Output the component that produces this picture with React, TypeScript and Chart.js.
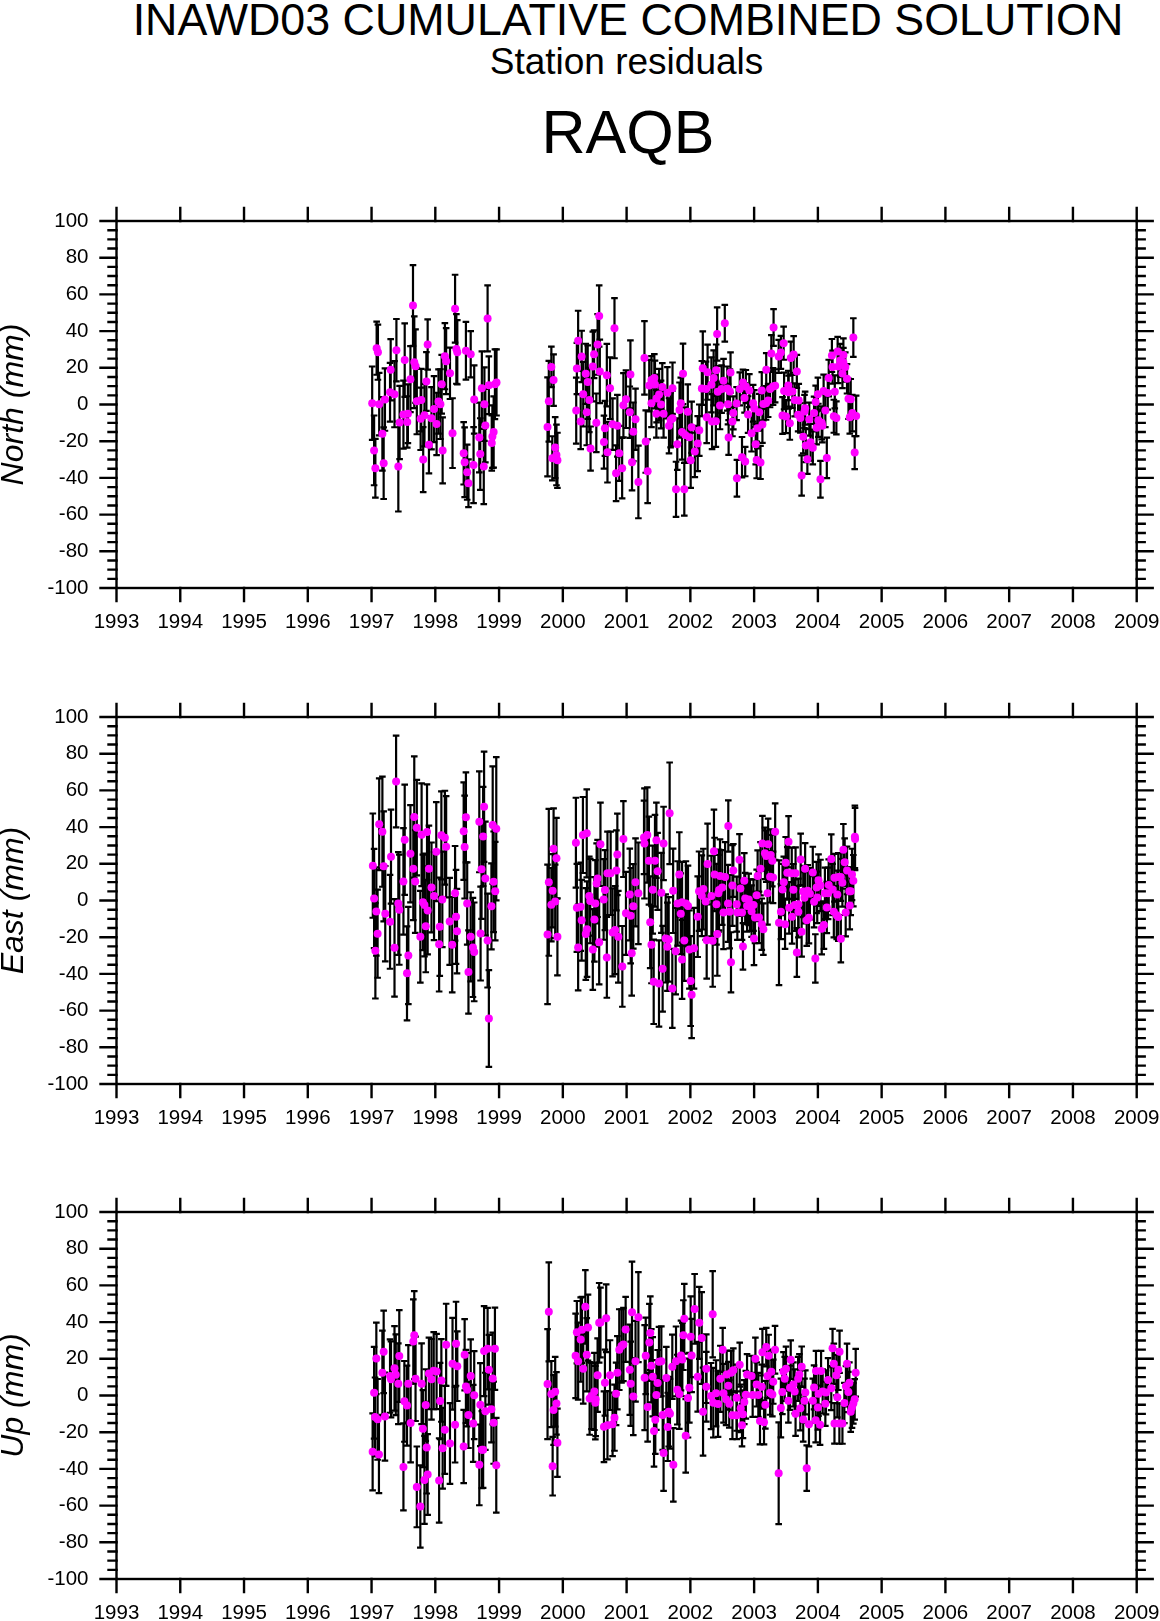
import { useEffect, useRef } from 'react'
import { Chart, registerables } from 'chart.js'

Chart.register(...registerables)

const FONT = '"Liberation Sans", Arial, sans-serif'

const yearTicks = [1993, 1994, 1995, 1996, 1997, 1998, 1999, 2000, 2001, 2002, 2003, 2004, 2005, 2006, 2007, 2008, 2009]
const mmMinorTicks = [-100, -95, -90, -85, -80, -75, -70, -65, -60, -55, -50, -45, -40, -35, -30, -25, -20, -15, -10, -5, 0, 5, 10, 15, 20, 25, 30, 35, 40, 45, 50, 55, 60, 65, 70, 75, 80, 85, 90, 95, 100]
const mmMajorTicks = [-100, -80, -60, -40, -20, 0, 20, 40, 60, 80, 100]

const northEpochs = [
  1997.01, 1997.04, 1997.06, 1997.08, 1997.10, 1997.12, 1997.17, 1997.19, 1997.21, 1997.29,
  1997.30, 1997.36, 1997.39, 1997.42, 1997.44, 1997.50, 1997.52, 1997.56, 1997.57, 1997.61,
  1997.65, 1997.67, 1997.69, 1997.71, 1997.78, 1997.77, 1997.81, 1997.83, 1997.86, 1997.88,
  1997.90, 1997.94, 1997.98, 1998.02, 1998.05, 1998.08, 1998.10, 1998.115, 1998.15, 1998.17,
  1998.23, 1998.27, 1998.31, 1998.33, 1998.345, 1998.445, 1998.46, 1998.48, 1998.50, 1998.52,
  1998.555, 1998.60, 1998.61, 1998.69, 1998.705, 1998.73, 1998.76, 1998.77, 1998.785, 1998.82,
  1998.84, 1998.885, 1998.895, 1998.915, 1998.935, 1998.96,
  1999.76, 1999.78, 1999.82, 1999.835, 1999.855, 1999.88, 1999.90, 1999.915,
  2000.21, 2000.22, 2000.24, 2000.28, 2000.295, 2000.32, 2000.36, 2000.375, 2000.39, 2000.415,
  2000.435, 2000.47, 2000.49, 2000.525, 2000.545, 2000.57, 2000.58, 2000.645, 2000.66, 2000.69,
  2000.70, 2000.74, 2000.78, 2000.81, 2000.835, 2000.855, 2000.885, 2000.93, 2000.95, 2000.99,
  2001.05, 2001.06, 2001.085, 2001.105, 2001.14, 2001.185, 2001.28, 2001.30, 2001.33, 2001.355,
  2001.39, 2001.39, 2001.435, 2001.445, 2001.467, 2001.47, 2001.51, 2001.54, 2001.56, 2001.58,
  2001.64, 2001.665, 2001.69, 2001.72, 2001.72, 2001.775, 2001.795, 2001.83, 2001.85, 2001.87,
  2001.885, 2001.905, 2001.92, 2001.96, 2001.985, 2002.005, 2002.02, 2002.07, 2002.115, 2002.14,
  2002.18, 2002.195, 2002.245, 2002.256, 2002.27, 2002.33, 2002.34, 2002.365, 2002.40, 2002.405,
  2002.42, 2002.43, 2002.465, 2002.49, 2002.52, 2002.54, 2002.58, 2002.59, 2002.60, 2002.62,
  2002.63, 2002.66, 2002.674, 2002.725, 2002.73, 2002.775, 2002.81, 2002.825, 2002.85, 2002.86,
  2002.87, 2002.905, 2002.925, 2002.96, 2002.985, 2003.003, 2003.025, 2003.04, 2003.05, 2003.08,
  2003.10, 2003.12, 2003.13, 2003.145, 2003.187, 2003.19, 2003.22, 2003.25, 2003.27, 2003.297,
  2003.305, 2003.33, 2003.385, 2003.42, 2003.445, 2003.463, 2003.47, 2003.50, 2003.536, 2003.54,
  2003.56, 2003.575, 2003.60, 2003.62, 2003.636, 2003.67, 2003.69, 2003.70, 2003.725, 2003.745,
  2003.77, 2003.79, 2003.80, 2003.81, 2003.835, 2003.865, 2003.885, 2003.92, 2003.94, 2003.965,
  2003.98, 2004.0, 2004.007, 2004.04, 2004.06, 2004.07, 2004.09, 2004.117, 2004.14, 2004.155,
  2004.17, 2004.22, 2004.23, 2004.25, 2004.265, 2004.29, 2004.31, 2004.32, 2004.35, 2004.385,
  2004.40, 2004.40, 2004.43, 2004.457, 2004.48, 2004.50, 2004.515, 2004.54, 2004.556, 2004.577,
  2004.60,
]
const northResiduals = [
  0.7, -25, -34.7, 30.7, 28.5, 0.2, -16, -32, 2.7, 6.7,
  18.9, 5.6, 29.6, -33.8, -9.8, -5.5, 24.2, -9.5, -5, 13.8,
  54, 23, 20.9, 1.8, 2.4, -7.8, -30, -5.8, 12.5, 32.7,
  -22, -7.5, -2.5, -10.6, 1.6, 0.2, 11, -25, 26.3, 23.6,
  17, -15.6, 52.2, 30.3, 28.5, -26.6, -31.5, 29.3, -36.9, -42.9,
  27.4, -33, 2.7, -18, -27, 8.9, -33.8, 0.2, -11.5, 46.9,
  10.5, -21, -17.5, -15, 11, 12,
  -12.2, 1.8, 20.5, -29.3, 13.3, -23.5, -27.5, -30.4,
  -3.3, 19.6, 34.7, -9.3, 26.2, 5.6, 16.7, -4.2, 12.2, 2.5,
  -24, 20.7, 27.4, -10, 32.7, 48.2, 18, -20.5, -13, 16,
  -26, 8.9, -10.7, 41.6, -37.5, -11.6, -26.6, -34.7, -0.4, 2.9,
  -4.2, 16.4, -31.5, -14.9, -8, -42.2, 25.4, -20.2, -36.4, 10.3,
  13.4, 0.7, 14.4, 10.9, -5.1, 3.3, 5.4, 0, 9.6, -5.1,
  6.4, -11.6, -8.4, 8.9, -7.5, -46.2, -21.6, -3, 0.7, -15,
  16.7, -46.2, -16.6, -4, -17.8, -30.4, -12.4, -25.6, -21.3, -14,
  8.7, 19.8, 8.4, -7, 17.6, 10.7, -9.3, 14.5, -9.1, 18.7,
  38.4, 6.9, -0.5, 8.4, 12.9, 44.3, 8.7, 0.2, -18, 7.1,
  17.4, -9.3, -4.6, 0.5, -40.2, 8.5, -28.7, 12, 3.6, -31.1,
  9.8, -5.5, 7.6, -15.6, 0.7, -2.2, -21.6, -30.2, -12.9, -4.2,
  -31.6, 7.6, -10.9, 0.3, 0.7, 19, 2.2, 8.5, 27.8, 9.8,
  42, 10.2, 26.2, 28.4, -6, 33.4, 7.4, -6.6, 10.4, 6.7,
  -10.2, 25.3, 7.1, 27.3, 2.5, 18, -5.6, 2.2, -7.3, -38.7,
  -17.6, -3.8, -2, -22.4, -29.8, -8, -20.6, -23.6, -4.7, 1.3,
  -12.7, 5.6, -8.6, -40.7, -10, -11.6, 7.3, -3.3, -29.1, 6.2,
  14.4, 26.7, 20.4, -6.4, 6.9, -7.3, 28.9, 20.7, 24, 16.9,
  27, 22.9, 20.4, 14, 3.1, -6.9, 2.9, -4.7, 36.5, -26.2,
  -6.2,
]
const northErrors = [
  20, 19, 16, 14.5, 15, 17, 20, 19.5, 17, 16,
  16.7, 18, 17, 24.5, 20, 18.5, 20, 14, 16, 18,
  22, 25, 20, 18, 17, 17, 17.7, 17, 16, 13.7,
  15.5, 17, 18, 17, 17.5, 19, 16, 18, 18, 18,
  14, 19, 18.5, 19, 17.5, 17, 19, 15.7, 15, 13,
  12.6, 20.7, 18.6, 19, 19.5, 20, 20.5, 20, 20, 18,
  15.7, 15, 17, 19.4, 19, 18,
  27, 22, 11, 12, 14, 16.6, 16.5, 15,
  18, 14, 16.4, 15, 14, 17.6, 16.4, 18, 20, 17.6,
  12, 19, 13, 16, 16.5, 16.7, 17.3, 14.4, 15, 17,
  16.5, 16.8, 14, 16.4, 15.2, 16.8, 15, 16.5, 17.5, 15.7,
  14, 18.5, 15.3, 16, 16.7, 19.8, 20, 17, 17.4, 14,
  13, 13, 13, 13, 13, 13, 14, 13, 13, 13,
  14, 15, 15, 14, 15, 15, 14, 15, 14, 15,
  16.5, 14.4, 15, 15, 14, 15, 14, 14, 15, 14,
  15, 20, 15, 14, 15, 15, 15, 15, 14, 14,
  14.5, 14, 13, 13, 12, 10, 12, 11, 9.5, 12,
  11, 8, 9, 9, 10, 9, 11, 7, 8, 8,
  9, 10, 9, 10, 10, 10, 11, 10, 11, 10,
  9, 10, 10, 9, 9, 9, 9, 10, 10, 10,
  10, 9, 9, 9, 10, 9, 10, 9, 8, 9,
  9, 9, 9, 10, 9, 9, 9, 9, 8, 11,
  9, 9, 9, 9, 8, 9, 10, 9, 9, 9,
  9, 9, 9, 10, 9, 9, 9, 9, 11, 9,
  10, 9, 9, 9, 9, 9, 8, 9, 9, 8,
  9, 8, 8, 8, 11, 9, 11, 10, 10.5, 9,
  11,
]

const eastEpochs = [
  1997.02, 1997.04, 1997.06, 1997.075, 1997.095, 1997.12, 1997.17, 1997.19, 1997.215, 1997.29,
  1997.305, 1997.36, 1997.385, 1997.42, 1997.435, 1997.50, 1997.52, 1997.556, 1997.577, 1997.61,
  1997.655, 1997.67, 1997.685, 1997.71, 1997.765, 1997.785, 1997.805, 1997.83, 1997.85, 1997.87,
  1997.88, 1997.90, 1997.94, 1997.98, 1998.015, 1998.06, 1998.07, 1998.095, 1998.11, 1998.15,
  1998.17, 1998.225, 1998.265, 1998.31, 1998.325, 1998.34, 1998.445, 1998.46, 1998.48, 1998.50,
  1998.52, 1998.555, 1998.59, 1998.61, 1998.69, 1998.71, 1998.725, 1998.75, 1998.765, 1998.785,
  1998.82, 1998.84, 1998.88, 1998.90, 1998.915, 1998.94, 1998.956,
  1999.76, 1999.78, 1999.82, 1999.84, 1999.855, 1999.88, 1999.90, 1999.915,
  2000.205, 2000.22, 2000.24, 2000.28, 2000.295, 2000.315, 2000.36, 2000.375, 2000.38, 2000.415,
  2000.43, 2000.47, 2000.495, 2000.51, 2000.53, 2000.545, 2000.57, 2000.59, 2000.64, 2000.66,
  2000.69, 2000.70, 2000.75, 2000.78, 2000.82, 2000.84, 2000.855, 2000.87, 2000.933, 2000.95,
  2000.99, 2001.05, 2001.064, 2001.08, 2001.105, 2001.14, 2001.185, 2001.273, 2001.28, 2001.325,
  2001.35, 2001.37, 2001.39, 2001.41, 2001.425, 2001.445, 2001.467, 2001.487, 2001.508, 2001.545,
  2001.565, 2001.58, 2001.613, 2001.64, 2001.66, 2001.675, 2001.717, 2001.73, 2001.77, 2001.80,
  2001.827, 2001.85, 2001.87, 2001.87, 2001.905, 2001.93, 2001.963, 2001.985, 2002.005, 2002.02,
  2002.057, 2002.115, 2002.136, 2002.18, 2002.204, 2002.24, 2002.256, 2002.27, 2002.33, 2002.35,
  2002.37, 2002.38, 2002.41, 2002.423, 2002.44, 2002.45, 2002.465, 2002.50, 2002.52, 2002.545,
  2002.59, 2002.595, 2002.616, 2002.637, 2002.66, 2002.674, 2002.727, 2002.737, 2002.77, 2002.785,
  2002.81, 2002.825, 2002.846, 2002.86, 2002.89, 2002.915, 2002.935, 2002.96, 2002.99, 2002.998,
  2003.014, 2003.04, 2003.055, 2003.077, 2003.10, 2003.12, 2003.13, 2003.145, 2003.17, 2003.19,
  2003.21, 2003.22, 2003.25, 2003.26, 2003.285, 2003.297, 2003.33, 2003.39, 2003.42, 2003.445,
  2003.465, 2003.485, 2003.495, 2003.52, 2003.54, 2003.55, 2003.59, 2003.595, 2003.615, 2003.636,
  2003.65, 2003.67, 2003.694, 2003.694, 2003.73, 2003.745, 2003.77, 2003.79, 2003.80, 2003.825,
  2003.84, 2003.86, 2003.875, 2003.92, 2003.94, 2003.96, 2003.98, 2003.99, 2004.01, 2004.04,
  2004.06, 2004.095, 2004.11, 2004.14, 2004.16, 2004.17, 2004.21, 2004.23, 2004.25, 2004.26,
  2004.295, 2004.305, 2004.32, 2004.32, 2004.36, 2004.36, 2004.384, 2004.40, 2004.42, 2004.436,
  2004.457, 2004.493, 2004.50, 2004.515, 2004.535, 2004.556, 2004.58, 2004.583,
]
const eastResiduals = [
  19, 1.1, -27.4, -6, -18.1, 41.5, 37.5, 18.6, -7.2, -11.6,
  23.9, -25.8, 64.9, -1.6, -5, 10.4, 33.1, -39.7, -30, 25.5,
  17.3, 45.5, 10.4, 39.7, -19.8, 35.8, -1, -2.5, -14.1, 37.3,
  -5.4, 17.3, 7.1, 2.4, 26.6, -23.8, -14.3, 35.5, 0.6, 34.2,
  29.3, -11.4, -24.1, 3.9, -8.9, -16.7, 37.8, 29.1, 45.3, -1.6,
  -39, -19.8, -25.6, -28, 42.9, -18, 17, 34.9, 51.1, 12,
  -21.8, -64.3, -3.2, 41.1, 10.2, 5.1, 39.1,
  -18.5, 9.9, -2.3, 5.3, 28.2, -0.5, 23, -19.8,
  31.5, -4, -25.6, -3.4, -10.8, 35.7, -18.3, 36.6, -15.6, 2.4,
  -0.3, -26.7, -10.3, -1.6, 9.3, 12, -22.7, 30.6, 0.6, 5.7,
  -31, 14.8, 14.8, -17.4, -16.1, 16.4, 25.1, -19.8, -35.9, 33.5,
  -7, 3.3, -8.3, -28.8, -3.2, 9.9, 3.9, 34.4, 31.1, 35.7,
  21.7, -11.8, -24.1, 5.9, -44.3, 21.7, 32.8, 15.9, -45.2, 4.2,
  -37.2, 31.1, -20.7, -25.2, -21.2, 47.5, -47.9, 5.3, -27.6, -1.6,
  14.2, -7.2, -32.1, -1, -21.8, -1.6, -3, -26.7, -43.9, -51.4,
  -26, -8.8, 5.1, 2.6, 6.2, -0.5, -21.6, 19.9, 2.4, -22,
  26.8, 14.2, -2, -18.3, 3.9, 5.7, 13.3, 7.1, -6.5, 12.8,
  -1.6, 40.6, -6.1, -33.7, 8.2, 16.4, -2, -6.5, 22.2, 6.6,
  -6.5, -25, 10.8, 1.1, -3, 0.6, -2.5, -5.8, -2.5, -20.7,
  -9.2, 2.8, 13.3, -9.2, 17.3, -12.9, 31.1, -15.6, 25.7, 24.2,
  3.9, 30.6, 12.9, 24.8, 21.7, 12.6, 37.5, -12.1, -6.1, 6,
  9.9, -13, 20.6, 15.1, 32, -4, 14.8, -8.8, 5.9, -2.5,
  14.9, -28.3, -2.1, -6.1, 22.4, -17, 4.9, 1.5, 17.3, -10.7,
  5.3, -9.4, 3.7, 15.3, -0.7, -31.6, 7.1, 1.7, 11.1, 8.2,
  -15.4, -13.4, 3.9, -3.8, 3.9, 8.4, 22.6, 6, -6.1, 12.4,
  -8, 3.3, -9, 12.8, 12.8, -20.8, 9.7, 27.7, 20.9, -6.5,
  16.4, 5.1, -2.7, 5, 14.2, 10.8, 34.7, 33.5,
]
const eastErrors = [
  28.4, 27, 26, 24, 24, 25, 30, 30, 26, 25.6,
  25.6, 26.6, 25, 28, 30, 29, 30, 25.6, 26.5, 26.5,
  28, 33, 28, 26, 25, 28, 26, 28, 25, 26,
  24, 23.5, 24.5, 24, 27, 25.8, 26.8, 24, 26, 25.6,
  27.6, 23.7, 26, 25.8, 25.6, 23, 26.6, 28, 24.5, 22.4,
  22.7, 24.3, 27, 26.9, 27.5, 25.6, 27, 27, 30, 31,
  25.6, 26.4, 23.4, 32, 27.4, 26.8, 39,
  38, 40, 20, 20, 22, 20, 22, 21,
  24.5, 24, 23.4, 24, 22, 20.7, 25, 24, 26, 21.5,
  23, 22, 23, 23.6, 21.8, 21, 23, 22.7, 22, 21.8,
  22, 22.7, 22.7, 24, 24, 21.8, 22.2, 25, 22, 20.7,
  22.6, 25, 26, 23, 23, 24, 27.7, 20, 30, 26,
  24, 25, 21, 24, 23, 25, 20.5, 21, 23.5, 21.8,
  23.4, 20, 24, 24, 23, 27.7, 21.5, 23, 23.6, 23,
  23, 22, 21.5, 22, 22, 23, 22, 21.3, 24.5, 23.6,
  22, 22, 21.6, 22, 22, 21, 21, 22, 22, 25,
  22.7, 20, 22, 22.7, 21, 22, 20, 20.4, 20, 19,
  21, 14, 20, 16.4, 22, 14.4, 15, 15, 14, 15,
  15, 12.7, 15, 14, 14, 14, 14, 14, 14, 14.5,
  14, 14, 14, 14, 14.5, 14, 15, 14, 14, 14,
  17, 14, 14, 14, 14, 14, 15.4, 34, 15, 14,
  14, 13.4, 14, 14, 14, 14, 14, 14.7, 14, 14,
  14, 13.3, 14, 14, 14, 13.6, 14, 14, 14, 14,
  14, 14, 14, 14, 14, 13.2, 14, 14, 14, 14,
  14, 13, 14, 14, 14, 14, 13.4, 14, 14, 13,
  13, 13, 13, 13, 13, 12.9, 13, 14, 13, 13,
  13, 13, 13, 13, 14, 14, 17, 17,
]

const upEpochs = [
  1997.017, 1997.04, 1997.055, 1997.075, 1997.095, 1997.116, 1997.17, 1997.19, 1997.21, 1997.29,
  1997.305, 1997.36, 1997.38, 1997.42, 1997.435, 1997.50, 1997.515, 1997.556, 1997.577, 1997.613,
  1997.655, 1997.67, 1997.69, 1997.71, 1997.765, 1997.785, 1997.805, 1997.83, 1997.85, 1997.865,
  1997.88, 1997.90, 1997.94, 1997.975, 1998.02, 1998.06, 1998.075, 1998.095, 1998.115, 1998.15,
  1998.17, 1998.23, 1998.27, 1998.31, 1998.325, 1998.345, 1998.445, 1998.46, 1998.48, 1998.50,
  1998.52, 1998.555, 1998.595, 1998.61, 1998.69, 1998.706, 1998.73, 1998.75, 1998.765, 1998.785,
  1998.82, 1998.84, 1998.88, 1998.90, 1998.915, 1998.935, 1998.956,
  1999.76, 1999.78, 1999.82, 1999.84, 1999.855, 1999.88, 1999.90, 1999.915,
  2000.2, 2000.22, 2000.24, 2000.28, 2000.30, 2000.32, 2000.353, 2000.375, 2000.395, 2000.42,
  2000.45, 2000.495, 2000.51, 2000.515, 2000.545, 2000.57, 2000.59, 2000.645, 2000.66, 2000.68,
  2000.70, 2000.74, 2000.78, 2000.81, 2000.835, 2000.855, 2000.885, 2000.92, 2000.95, 2000.985,
  2001.05, 2001.064, 2001.085, 2001.105, 2001.14, 2001.185, 2001.283, 2001.30, 2001.33, 2001.357,
  2001.372, 2001.388, 2001.41, 2001.43, 2001.45, 2001.467, 2001.487, 2001.508, 2001.545, 2001.566,
  2001.58, 2001.623, 2001.645, 2001.66, 2001.68, 2001.717, 2001.733, 2001.775, 2001.795, 2001.827,
  2001.853, 2001.874, 2001.89, 2001.905, 2001.927, 2001.963, 2001.984, 2002.005, 2002.02, 2002.067,
  2002.115, 2002.14, 2002.178, 2002.199, 2002.25, 2002.25, 2002.324, 2002.35, 2002.36, 2002.403,
  2002.434, 2002.47, 2002.507, 2002.52, 2002.56, 2002.57, 2002.596, 2002.61, 2002.638, 2002.66,
  2002.674, 2002.727, 2002.727, 2002.774, 2002.79, 2002.81, 2002.825, 2002.846, 2002.87, 2002.889,
  2002.96, 2002.977, 2003.02, 2003.04, 2003.066, 2003.092, 2003.12, 2003.13, 2003.155, 2003.176,
  2003.19, 2003.21, 2003.228, 2003.25, 2003.27, 2003.286, 2003.30, 2003.328, 2003.385, 2003.42,
  2003.443, 2003.46, 2003.48, 2003.50, 2003.537, 2003.563, 2003.574, 2003.616, 2003.636, 2003.65,
  2003.69, 2003.71, 2003.725, 2003.746, 2003.77, 2003.79, 2003.803, 2003.825, 2003.86, 2003.92,
  2003.94, 2003.965, 2003.97, 2004.0, 2004.01, 2004.034, 2004.05, 2004.075, 2004.117, 2004.127,
  2004.16, 2004.21, 2004.23, 2004.25, 2004.26, 2004.29, 2004.305, 2004.32, 2004.337, 2004.34,
  2004.385, 2004.415, 2004.44, 2004.457, 2004.478, 2004.494, 2004.515, 2004.535, 2004.556, 2004.577,
  2004.593,
]
const upResiduals = [
  -30.7, 1.5, -11.7, 20.2, -13, -32.2, 12.4, 23.8, -11.5, 10.6,
  8.8, 14.8, 11.3, 6.4, 21.5, -38.9, -3.2, -5.5, 6.4, -15,
  29.4, 32.9, 9.1, -49.8, -60.5, 6.4, -18.1, -46, -5.2, -28.4,
  -43.1, 12, 8.8, 13.5, 13.1, -46.3, -3, 8.2, -28.7, -18.7,
  27.6, -26.2, 17.3, -15.9, 28.2, 16, -27.8, 22.2, 4.9, 3.2,
  -10.6, 10.6, -15.2, 0.2, -37.8, -5, -29.5, -29.5, 24.2, -8.6,
  25.5, 14, -7.5, 9.3, -14.8, 25.5, -38,
  6.2, 45.6, 0.8, -38.5, -7.9, 2, -4.3, -25.7,
  21.6, 34.5, 18.7, 30.5, 35.8, 14.6, 48.3, 22.2, 37, -1.6,
  -0.3, 2.2, -3.9, -2.1, 11.1, 39.6, 39.8, -17, 7, 42.1,
  -16.2, 11.1, -15.7, -12.1, 0.9, 12.4, 25, 27, 27.8, 36,
  14, 6.4, 45.4, -0.6, 18.7, 42.7, 9.7, 21.6, -6.3, 28.9,
  34, 16.2, 10.2, -19.3, -13.2, 0.3, 6.8, 18.4, 18.7, -10.6,
  -31.3, 9.5, -17.1, -8.8, -9.9, 15.7, -37.8, 18.6, 3.2, 0.8,
  21.8, 19.6, 32.9, 41.8, -22, -1.4, 4.2, 32, 21.8, 47.2,
  10.2, 39.6, 31.3, -8.8, 14.6, 4.8, -0.3, 44.3, -3.9, 1.2,
  -4.6, 9.1, 24.9, 1.2, -2.1, 11.5, 5.3, -4.5, 12.4, -10.8,
  13.7, -1.2, -10.8, 16.8, -7, -16.2, -10.2, -3.6, 0.4, 11.5,
  10.6, 0.3, 20, 6, 0.3, -13.9, 4.8, 23.6, -14.6, -5,
  26.4, 10.6, 21.6, 1.5, 13, 0.6, 7.5, 24.9, -42.4, -6.8,
  1.9, 13.1, 9.1, 14.6, -2.8, 4.2, 19.5, 6, 2.2, -10,
  9.1, 11.5, -7, 15.7, -13.1, -2.8, 1.7, -39.6, -15.7, -2.8,
  4.4, -13.5, 13.3, -6.6, 0.9, -15.9, 13.3, 2.2, -4.5, 1.7,
  8.4, 4, 25.8, 17.3, -15.2, 11.1, -0.9, 14, -15.3, 23.8,
  -15.3, -4.1, 5, 17.3, 1.9, 7, -8.8, -6.6, -4.3, -2.1,
  12.4,
]
const upErrors = [
  21, 25, 21.5, 19.5, 22, 21, 23, 22.5, 24, 20,
  20.7, 23, 22, 22, 25, 23.7, 22, 21.8, 21, 21.4,
  23, 24, 23, 22, 22.4, 22, 21, 24, 19.5, 25,
  22, 19.5, 22, 21, 20.5, 23, 20.8, 22.5, 22, 24,
  22.4, 22, 25, 20.6, 22.9, 19, 20, 19.4, 20, 20,
  18, 20, 21, 24, 22, 22.6, 21, 20.8, 24.5, 21,
  22.2, 19, 18, 25, 22.4, 22.4, 25.8,
  30, 27, 18, 16, 19, 19, 17, 18.6,
  23, 17, 21, 23, 18, 19, 20, 20, 18, 19.8,
  18, 21, 20, 20, 20, 21.7, 19, 19.3, 18, 18.5,
  18.6, 19, 17.3, 18, 17, 20, 22, 20, 20, 17.7,
  24.6, 23, 27.6, 21, 22, 24.5, 28.6, 20.8, 18.8, 21,
  20, 20, 21.6, 19.5, 18.6, 19, 18, 19, 19, 19,
  20.7, 17, 18.6, 19, 19, 17.5, 20, 19, 19, 19,
  19, 20, 19, 19, 20, 21.5, 19, 22, 20, 19,
  19, 19.6, 25, 24, 18.7, 19, 18, 23.5, 19, 18,
  18, 18, 12, 16, 14, 13, 13, 13, 12, 13,
  12, 18, 13, 12, 13, 11.5, 13, 12, 13, 11,
  11, 12, 11.5, 12, 12, 12.7, 12, 12.7, 12, 13,
  10.5, 12, 11.5, 12, 12, 12, 12, 13, 27.7, 16,
  12, 10.5, 12, 12, 12, 12, 10.5, 12, 12, 12,
  12, 11, 12, 11, 12, 12, 12, 12.4, 12, 12,
  12, 12, 11, 12, 12, 11, 11, 12, 12, 12,
  12, 12, 10.5, 11, 11, 11, 11, 11, 11, 11.5,
  11, 11, 11, 11, 11, 11, 11, 11, 11, 11,
  13,
]

const errorBars = {
  id: 'errorBars',
  beforeDatasetsDraw(chart: any) {
    const { ctx, scales } = chart
    const ds = chart.data.datasets[0]
    ctx.save()
    ctx.strokeStyle = '#000'
    ctx.lineWidth = 2.2
    ds.data.forEach((p: any, i: number) => {
      const x = scales.x.getPixelForValue(p.x)
      const hi = scales.y.getPixelForValue(p.y + ds.errors[i])
      const lo = scales.y.getPixelForValue(p.y - ds.errors[i])
      ctx.beginPath()
      ctx.moveTo(x, hi)
      ctx.lineTo(x, lo)
      ctx.moveTo(x - 3.3, hi)
      ctx.lineTo(x + 3.3, hi)
      ctx.moveTo(x - 3.3, lo)
      ctx.lineTo(x + 3.3, lo)
      ctx.stroke()
    })
    ctx.restore()
  },
}

// frame and outward ticks on all four sides, GMT style
const frameTicks = {
  id: 'frameTicks',
  afterDraw(chart: any) {
    const { ctx, scales, chartArea: a } = chart
    ctx.save()
    ctx.strokeStyle = '#000'
    ctx.lineWidth = 2.4
    ctx.lineCap = 'square'
    ctx.strokeRect(a.left, a.top, a.right - a.left, a.bottom - a.top)
    ctx.beginPath()
    yearTicks.forEach(v => {
      const x = scales.x.getPixelForValue(v)
      ctx.moveTo(x, a.top - 13)
      ctx.lineTo(x, a.top)
      ctx.moveTo(x, a.bottom)
      ctx.lineTo(x, a.bottom + 13)
    })
    mmMinorTicks.forEach(v => {
      const y = scales.y.getPixelForValue(v)
      const len = mmMajorTicks.includes(v) ? 16 : 8
      ctx.moveTo(a.left - len, y)
      ctx.lineTo(a.left, y)
      ctx.moveTo(a.right, y)
      ctx.lineTo(a.right + len, y)
    })
    ctx.stroke()
    ctx.restore()
  },
}

function ResidualPanel({ label, epochs, residuals, errors, top }: any) {
  const chartRef = useRef<HTMLCanvasElement>(null)

  useEffect(() => {
    if (!chartRef.current) return
    const chart = new Chart(chartRef.current, {
      type: 'scatter',
      data: {
        datasets: [
          {
            label,
            data: epochs.map((x: number, i: number) => ({ x, y: residuals[i] })),
            errors,
            pointRadius: 4,
            pointHoverRadius: 4,
            pointBackgroundColor: '#ff00ff',
            pointBorderWidth: 0,
          } as any,
        ],
      },
      options: {
        animation: false,
        responsive: false,
        devicePixelRatio: 1,
        layout: { padding: { top: 20, right: 23.3, bottom: 0, left: 0 } },
        plugins: { legend: { display: false }, tooltip: { enabled: false } },
        scales: {
          x: {
            type: 'linear',
            min: 1993,
            max: 2009,
            afterFit: (s: any) => {
              s.height = 42
              s.paddingLeft = 0
              s.paddingRight = 0
            },
            afterBuildTicks: (s: any) => {
              s.ticks = yearTicks.map(value => ({ value }))
            },
            grid: { display: false, drawTicks: false },
            border: { display: false },
            ticks: {
              autoSkip: false,
              maxRotation: 0,
              padding: 22,
              color: '#000',
              font: { family: FONT, size: 20.5 },
              callback: (v: any) => String(v),
            },
          },
          y: {
            min: -100,
            max: 100,
            afterFit: (s: any) => {
              s.width = 116.5
              s.paddingTop = 0
              s.paddingBottom = 0
            },
            afterBuildTicks: (s: any) => {
              s.ticks = mmMajorTicks.map(value => ({ value }))
            },
            grid: { display: false, drawTicks: false },
            border: { display: false },
            title: {
              display: true,
              text: label,
              color: '#000',
              padding: 0,
              font: { family: FONT, size: 32, style: 'italic', lineHeight: 0.85 },
            },
            ticks: {
              autoSkip: false,
              padding: 28,
              color: '#000',
              font: { family: FONT, size: 20.5 },
              callback: (v: any) => String(v),
            },
          },
        },
      },
      plugins: [errorBars, frameTicks],
    })
    return () => chart.destroy()
  }, [])

  return (
    <canvas
      ref={chartRef}
      width={1160}
      height={429}
      style={{ position: 'absolute', left: 0, top, width: 1160, height: 429 }}
    />
  )
}

function Heading({ text, size, top, center }: any) {
  return (
    <div
      style={{
        position: 'absolute',
        left: 0,
        width: center * 2,
        top,
        textAlign: 'center',
        fontFamily: FONT,
        fontSize: size,
        lineHeight: `${size}px`,
        whiteSpace: 'nowrap',
        color: '#000',
      }}
    >
      {text}
    </div>
  )
}

export default function App() {
  return (
    <div style={{ position: 'absolute', left: 0, top: 0, width: 1160, height: 1621, overflow: 'hidden', background: '#fff' }}>
      <Heading text="INAWD03 CUMULATIVE COMBINED SOLUTION" size={44.8} top={-3} center={628} />
      <Heading text="Station residuals" size={37} top={43} center={626.5} />
      <Heading text="RAQB" size={61} top={102} center={628} />
      <ResidualPanel label="North (mm)" epochs={northEpochs} residuals={northResiduals} errors={northErrors} top={201} />
      <ResidualPanel label="East (mm)" epochs={eastEpochs} residuals={eastResiduals} errors={eastErrors} top={697} />
      <ResidualPanel label="Up (mm)" epochs={upEpochs} residuals={upResiduals} errors={upErrors} top={1192} />
    </div>
  )
}
